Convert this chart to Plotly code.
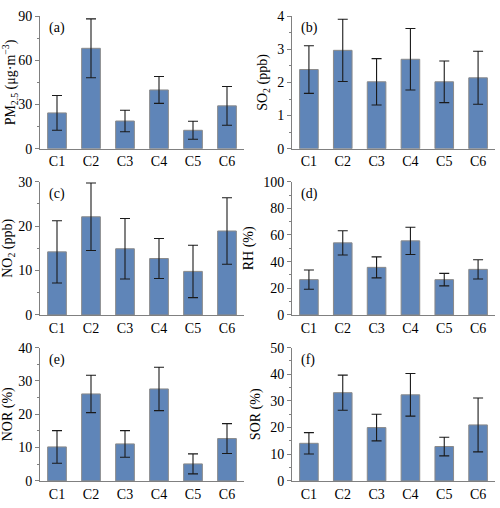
import plotly.graph_objects as go

categories = ["C1", "C2", "C3", "C4", "C5", "C6"]

pm25 = [24.3, 68.2, 18.8, 39.9, 12.5, 29.1]
pm25_sd = [11.8, 20.0, 7.3, 9.1, 6.1, 13.2]
so2 = [2.39, 2.97, 2.02, 2.70, 2.02, 2.14]
so2_sd = [0.72, 0.94, 0.70, 0.93, 0.63, 0.80]
no2 = [14.2, 22.1, 14.9, 12.7, 9.8, 18.9]
no2_sd = [7.0, 7.6, 6.8, 4.5, 5.9, 7.5]
rh = [26.5, 54.1, 35.7, 55.6, 26.5, 34.2]
rh_sd = [7.2, 9.1, 7.9, 10.2, 4.7, 7.2]
nor = [10.2, 26.1, 11.1, 27.6, 5.1, 12.7]
nor_sd = [4.9, 5.6, 4.0, 6.5, 3.0, 4.5]
sor = [14.1, 33.1, 20.0, 32.3, 12.9, 21.0]
sor_sd = [4.0, 6.6, 5.0, 8.0, 3.5, 10.1]

panels = [
    (pm25, pm25_sd, "PM<sub>2.5</sub> (μg·m<sup>−3</sup>)", "(a)", [0, 90], 30),
    (so2, so2_sd, "SO<sub>2</sub> (ppb)", "(b)", [0, 4], 1),
    (no2, no2_sd, "NO<sub>2</sub> (ppb)", "(c)", [0, 30], 10),
    (rh, rh_sd, "RH (%)", "(d)", [0, 100], 20),
    (nor, nor_sd, "NOR (%)", "(e)", [0, 40], 10),
    (sor, sor_sd, "SOR (%)", "(f)", [0, 50], 10),
]

xdoms = [[40 / 500, 244 / 500], [292 / 500, 495 / 500]]
rows_px = [(9.5, 146), (180, 317.3), (351, 488.3)]
H = 508
ydoms = [[1 - b / H, 1 - t / H] for t, b in rows_px]

FONT = "Liberation Serif"
AXC = "#808080"

fig = go.Figure()
layout = {}
annotations = []
for i, (vals, sd, title, tag, rng, dt) in enumerate(panels):
    r, c = divmod(i, 2)
    n = i + 1
    xa = "xaxis" if n == 1 else f"xaxis{n}"
    ya = "yaxis" if n == 1 else f"yaxis{n}"
    xr = "x" if n == 1 else f"x{n}"
    yr = "y" if n == 1 else f"y{n}"
    fig.add_trace(go.Bar(
        x=categories, y=vals, xaxis=xr, yaxis=yr,
        width=0.55,
        marker=dict(color="#5f85b8", line=dict(color="#8a8a8a", width=1)),
        error_y=dict(type="data", array=sd, visible=True, color="#1a1a1a",
                     thickness=1.1, width=5),
        showlegend=False,
    ))
    layout[xa] = dict(
        domain=xdoms[c], anchor=yr, range=[-0.5, 5.5],
        showline=True, linecolor=AXC, linewidth=1, ticks="",
        tickfont=dict(family=FONT, size=14, color="black"),
        showgrid=False, zeroline=False,
    )
    layout[ya] = dict(
        domain=ydoms[r], anchor=xr, range=rng, dtick=dt, tick0=0,
        showline=True, linecolor=AXC, linewidth=1,
        ticks="outside", ticklen=4, tickcolor=AXC, tickwidth=1,
        minor=dict(dtick=dt / 2, ticks="outside", ticklen=2, tickcolor=AXC),
        tickfont=dict(family=FONT, size=14, color="black"),
        showgrid=False, zeroline=False,
        title=dict(text=title, font=dict(family=FONT, size=14, color="black"),
                   standoff=6),
    )
    annotations.append(dict(
        text=tag, xref=f"{xr} domain", yref=f"{yr} domain",
        x=0.035, y=0.985, xanchor="left", yanchor="top", showarrow=False,
        font=dict(family=FONT, size=14, color="black"),
    ))

fig.update_layout(
    width=500, height=508,
    margin=dict(l=0, r=0, t=0, b=0),
    paper_bgcolor="white", plot_bgcolor="white",
    annotations=annotations,
    **layout,
)
fig.write_html("out.html")
